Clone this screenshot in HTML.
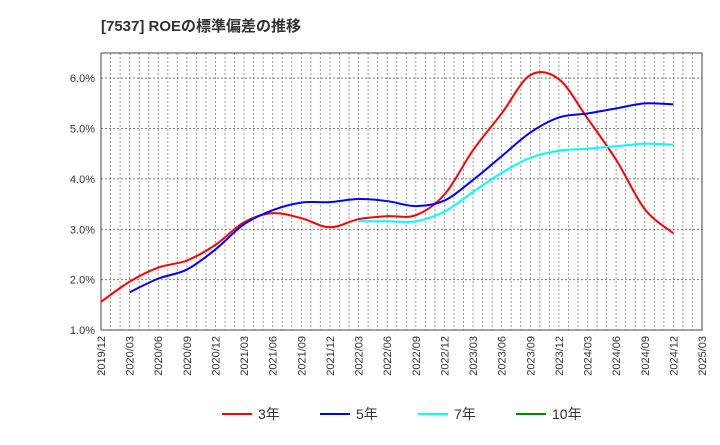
<!DOCTYPE html>
<html><head><meta charset="utf-8"><style>
body{margin:0;background:#fff;font-family:"Liberation Sans","Noto Sans CJK JP",sans-serif}
</style></head><body>
<svg id="c" width="720" height="440" xmlns="http://www.w3.org/2000/svg">
<text x="101" y="31" font-size="15" font-weight="bold" fill="#333">[7537]  ROEの標準偏差の推移</text>
<g id="grid"></g><g id="axes"></g><g id="series"></g><g id="legend"></g>
</svg>
<script>
const xLabels=["2019/12","2020/03","2020/06","2020/09","2020/12","2021/03","2021/06","2021/09","2021/12","2022/03","2022/06","2022/09","2022/12","2023/03","2023/06","2023/09","2023/12","2024/03","2024/06","2024/09","2024/12","2025/03"];
const yTicks=[1,2,3,4,5,6];
const s3=[1.56,1.96,2.24,2.38,2.69,3.14,3.32,3.22,3.04,3.20,3.26,3.28,3.69,4.57,5.30,6.06,5.98,5.20,4.38,3.40,2.92];
const s5=[null,1.75,2.02,2.20,2.60,3.10,3.38,3.53,3.54,3.60,3.56,3.46,3.57,3.98,4.45,4.92,5.22,5.30,5.40,5.50,5.48];
const s7=[null,null,null,null,null,null,null,null,null,3.16,3.16,3.16,3.35,3.74,4.12,4.42,4.56,4.60,4.65,4.70,4.68];
const s10=[];
const L=101,R=702,T=53,B=330,ymin=1,ymax=6.5;
const x=i=>L+(R-L)*i/(xLabels.length-1);
const y=v=>B-(B-T)*(v-ymin)/(ymax-ymin);
const NS="http://www.w3.org/2000/svg";
function mk(t,a,p){const e=document.createElementNS(NS,t);for(const k in a)e.setAttribute(k,a[k]);p.appendChild(e);return e;}
const g=document.getElementById('grid'),ax=document.getElementById('axes'),se=document.getElementById('series'),lg=document.getElementById('legend');
mk('rect',{x:L,y:T,width:R-L,height:B-T,fill:'#fff'},g);
for(let m=1;m<(xLabels.length-1)*3;m++){const xx=L+(R-L)*m/((xLabels.length-1)*3);const l=mk('line',{x1:xx,x2:xx,y1:T,y2:B,stroke:'#999','stroke-dasharray':'2,2','stroke-width':1},g);}
yTicks.forEach(v=>{const l=mk('line',{x1:L,x2:R,y1:y(v),y2:y(v),stroke:'#777','stroke-dasharray':'2,2'},g);
const t=mk('text',{x:L-6,y:y(v)+4,'text-anchor':'end','font-size':11,fill:'#333'},ax);t.textContent=v.toFixed(1)+'%';});
const fr=mk('rect',{x:L,y:T,width:R-L,height:B-T,fill:'none',stroke:'#444'},ax);
xLabels.forEach((s,i)=>{const t=mk('text',{transform:`translate(${x(i)+4},${B+6}) rotate(-90)`,'text-anchor':'end','font-size':11,fill:'#333'},ax);t.textContent=s;});
function path(arr){const p=[];arr.forEach((v,i)=>{if(v!=null)p.push([x(i),y(v)]);});if(!p.length)return'';let d=`M${p[0][0]},${p[0][1]}`;
for(let i=0;i<p.length-1;i++){const p0=p[i-1]||p[i],p1=p[i],p2=p[i+1],p3=p[i+2]||p2;
d+=`C${p1[0]+(p2[0]-p0[0])/6},${p1[1]+(p2[1]-p0[1])/6} ${p2[0]-(p3[0]-p1[0])/6},${p2[1]-(p3[1]-p1[1])/6} ${p2[0]},${p2[1]}`;}return d;}
const ser=[[s3,'#f00','3年','series-3y'],[s5,'#00f','5年','series-5y'],[s7,'#0ff','7年','series-7y'],[s10,'#080','10年','series-10y']];
ser.forEach(([a,c,n,id],k)=>{const d=path(a);if(d){const p=mk('path',{d:d,fill:'none',stroke:c,'stroke-width':2},se);}
const lx=222+k*98;const ln=mk('line',{x1:lx,x2:lx+30,y1:414,y2:414,stroke:c,'stroke-width':2},lg);
const t=mk('text',{x:lx+36,y:419,'font-size':14,fill:'#333'},lg);t.textContent=n;});
</script>
</body></html>
